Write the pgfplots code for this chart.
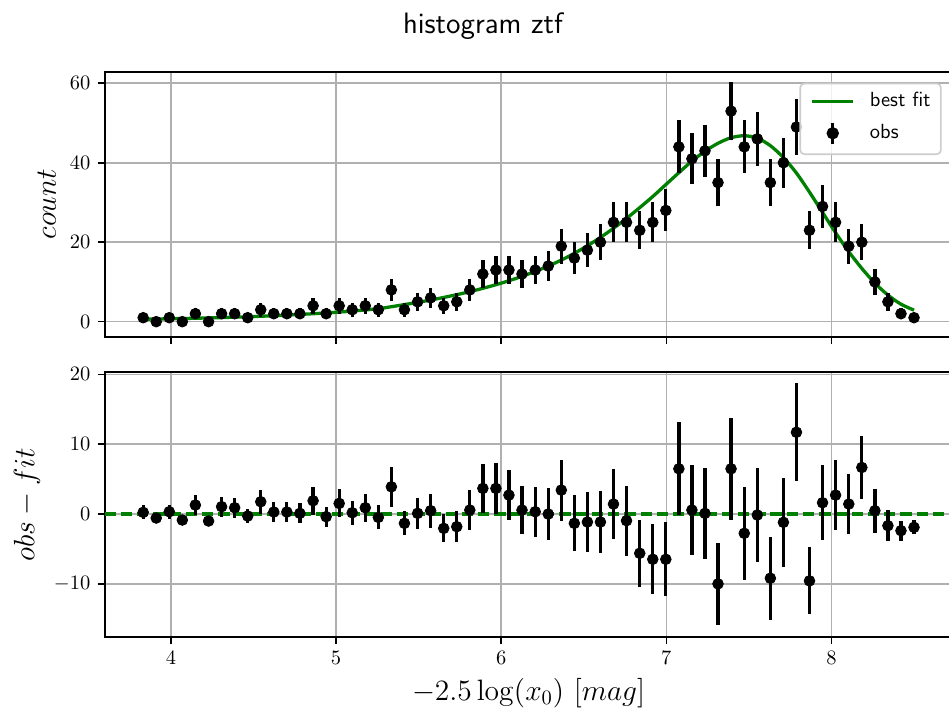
\documentclass[border=0pt]{standalone}
\usepackage{pgfplots}
\pgfplotsset{compat=1.18}
\usepackage{pgfplotstable}
\definecolor{mplgreen}{RGB}{0,128,0}
\definecolor{gridgray}{HTML}{B0B0B0}
\definecolor{legframe}{HTML}{CCCCCC}

\pgfplotstableread{
x y e r f
3.832 1 1 0.24 0.62
3.911 0 0 -0.57 0.67
3.990 1 1 0.33 0.73
4.069 0 0 -0.86 0.79
4.148 2 1.414 1.29 0.86
4.228 0 0 -1.00 0.94
4.307 2 1.414 1.05 1.03
4.386 2 1.414 0.90 1.13
4.465 1 1 -0.29 1.24
4.544 3 1.732 1.76 1.36
4.623 2 1.414 0.29 1.50
4.702 2 1.414 0.29 1.65
4.781 2 1.414 0.10 1.82
4.861 4 2 1.90 2.00
4.940 2 1.414 -0.38 2.20
5.019 4 2 1.52 2.42
5.098 3 1.732 0.19 2.67
5.177 4 2 0.90 2.95
5.256 3 1.732 -0.48 3.27
5.335 8 2.828 3.90 3.76
5.414 3 1.732 -1.33 4.30
5.494 5 2.236 0.10 4.85
5.573 6 2.449 0.48 5.45
5.652 4 2 -2.05 6.10
5.731 5 2.236 -1.81 6.80
5.810 8 2.828 0.57 7.55
5.889 12 3.464 3.67 8.40
5.968 13 3.606 3.67 9.30
6.047 13 3.606 2.71 10.30
6.126 12 3.464 0.57 11.40
6.206 13 3.606 0.33 12.65
6.285 14 3.742 0.00 14.00
6.364 19 4.359 3.43 15.50
6.443 16 4 -1.33 17.20
6.522 18 4.243 -1.14 19.10
6.601 20 4.472 -1.14 21.20
6.680 25 5 1.43 23.50
6.759 25 5 -0.95 26.00
6.839 23 4.796 -5.62 28.70
6.918 25 5 -6.48 31.50
6.997 28 5.292 -6.48 34.50
7.076 44 6.633 6.48 37.50
7.155 41 6.403 0.57 40.40
7.234 43 6.557 0.10 42.90
7.313 35 5.916 -10.00 44.90
7.392 53 7.280 6.48 46.30
7.472 44 6.633 -2.76 46.80
7.551 46 6.782 -0.14 46.20
7.630 35 5.916 -9.19 44.30
7.709 40 6.325 -1.19 41.30
7.788 49 7 11.71 37.40
7.867 23 4.796 -9.57 32.60
7.946 29 5.385 1.62 27.50
8.025 25 5 2.71 22.40
8.105 19 4.359 1.43 17.60
8.184 20 4.472 6.67 13.40
8.263 10 3.162 0.48 9.70
8.342 5 2.236 -1.67 6.70
8.421 2 1.414 -2.38 4.40
8.500 1 1 -1.90 2.90
}\data

\pgfplotsset{
  common/.style={
    scale only axis, width=412.45bp, height=128.92bp,
    xmin=3.599, xmax=8.733,
    xtick={4,5,6,7,8},
    grid=major, grid style={gridgray, line width=0.8bp},
    tick align=outside, tick pos=left,
    major tick length=3.5bp,
    tick style={black, line width=0.8bp},
    axis line style={black, line width=0.8bp},
    tick label style={font=\normalsize},
    label style={font=\Large},
  }
}

\begin{document}
\begin{tikzpicture}
\begin{axis}[common, name=top, at={(0,0)}, anchor=south west,
  ymin=-3.78, ymax=62.92, ytick={0,20,40,60},
  xticklabels={},
  ylabel={$count$},
  ylabel style={at={(axis description cs:-0.0684,0.5)}, anchor=center},
  legend style={at={(axis description cs:0.9873,0.9585)}, anchor=north east,
    draw=legframe, line width=0.8bp, rounded corners=2bp,
    fill=white, fill opacity=0.8, draw opacity=1, text opacity=1,
    font=\sffamily\normalsize, inner xsep=5bp, inner ysep=4.4bp,
    row sep=5bp, column sep=7.3bp,
    nodes={inner sep=0pt, text height=7bp, text depth=2bp}},
  legend cell align=left,
]
\addplot[mplgreen, line width=1.6bp, smooth,
  legend image code/.code={\draw[mplgreen, line width=1.6bp, draw opacity=1] (0bp,0bp) -- (20bp,0bp);}]
  table[x=x, y=f] {\data};
\addlegendentry{best fit}
\addplot[black, only marks, mark=*, mark size=2.6bp, mark options={fill=black, draw=black},
  legend image code/.code={%
    \draw[black, line width=1.6bp, draw opacity=1] (10bp,-5bp) -- (10bp,5bp);
    \fill[black, fill opacity=1, draw opacity=1] (10bp,0bp) circle (2.6bp);
    \path (0bp,0bp) (20bp,0bp);},
  error bars/.cd, y dir=both, y explicit, error bar style={line width=1.6bp, black}, error mark=none]
  table[x=x, y=y, y error=e] {\data};
\addlegendentry{obs}
\end{axis}

\begin{axis}[common, name=bot, at={(0,-146.24bp)}, anchor=south west,
  ymin=-17.65, ymax=20.3, ytick={-10,0,10,20},
  ylabel={$obs-fit$},
  ylabel style={at={(axis description cs:-0.0917,0.5)}, anchor=center},
  xlabel={$-2.5\log(x_0)\ [mag]$},
  xlabel style={at={(axis description cs:0.5,-0.21)}, anchor=center},
]
\addplot[mplgreen, dash pattern=on 5.5bp off 2.4bp, line width=1.6bp]
  coordinates {(3.599,0) (8.733,0)};
\addplot[black, only marks, mark=*, mark size=2.6bp, mark options={fill=black, draw=black},
  error bars/.cd, y dir=both, y explicit, error bar style={line width=1.6bp, black}, error mark=none]
  table[x=x, y=r, y error=e] {\data};
\end{axis}

\node[anchor=north, inner sep=0pt, font=\sffamily\Large] at (184.04bp,157.97bp) {histogram ztf};

\pgfresetboundingbox
\path[use as bounding box] (-50.94bp,-182.10bp) rectangle (410.75bp,163.80bp);
\end{tikzpicture}
\end{document}
